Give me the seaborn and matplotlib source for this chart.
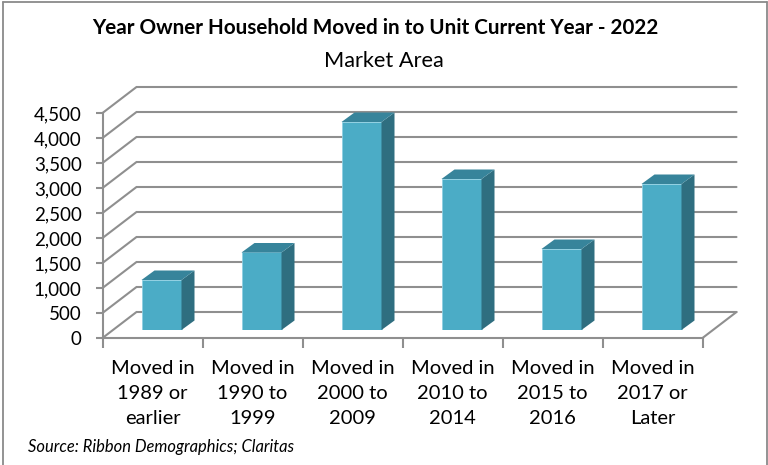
import pandas as pd
import matplotlib
matplotlib.use('Agg')
import matplotlib.pyplot as plt
from matplotlib.lines import Line2D
from matplotlib.patches import Polygon
import seaborn as sns

categories = ['Moved in\n1989 or\nearlier', 'Moved in\n1990 to\n1999', 'Moved in\n2000 to\n2009',
              'Moved in\n2010 to\n2014', 'Moved in\n2015 to\n2016', 'Moved in\n2017 or\nLater']
values = [1000, 1550, 4160, 3020, 1620, 2920]
y_ticks = [0, 500, 1000, 1500, 2000, 2500, 3000, 3500, 4000, 4500]

W, H = 768, 465
GRID = '#8f8f8f'
FRONT = '#4BACC6'
SIDE = '#2F6E80'
TOP = '#37849B'

sns.set_theme(style='white')
plt.rcParams['font.family'] = ['Lato', 'DejaVu Sans']


def px_axes(x0, y0, x1, y1):
    # pixels measured from the top left of the picture
    return fig.add_axes([x0 / W, 1 - y1 / H, (x1 - x0) / W, (y1 - y0) / H])


fig = plt.figure(figsize=(W / 100, H / 100), dpi=100, facecolor='white')

# front plane: axes, ticks and the walls
ax = px_axes(102.5, 113, 702.5, 338)
ax.set_xlim(-0.5, 5.5)
ax.set_ylim(0, 4500)
ax.patch.set_alpha(0)

depth_x = 0.34   # 34 px
depth_y = 520    # 26 px
for v in y_ticks:
    ax.plot([-0.5, -0.5 + depth_x, 5.5 + depth_x], [v, v + depth_y, v + depth_y],
            color=GRID, lw=1.5, clip_on=False, zorder=1, solid_joinstyle='miter')
ax.plot([5.5, 5.5 + depth_x], [0, depth_y], color=GRID, lw=1.5, clip_on=False, zorder=1)

for s in ['top', 'right']:
    ax.spines[s].set_visible(False)
for s in ['left', 'bottom']:
    ax.spines[s].set_color(GRID)
    ax.spines[s].set_linewidth(1.5)
ax.set_yticks(y_ticks)
ax.set_yticklabels([f'{v:,}' for v in y_ticks], fontsize=13.5, color='black')
ax.set_xticks([i - 0.5 for i in range(7)])
ax.set_xticklabels([])
ax.set_xticks(range(6), categories, minor=True, fontsize=14.5, color='black', linespacing=1.6)
ax.tick_params(axis='y', length=5, width=1.5, color=GRID, pad=10, left=True)
ax.tick_params(axis='x', which='major', length=7, width=1.5, color=GRID, bottom=True)
ax.tick_params(axis='x', which='minor', length=0, pad=15.5)

# bars stand a little inside the floor, so they get their own shifted axes
ax_bars = px_axes(111.5, 105, 711.5, 330)
df = pd.DataFrame({'category': categories, 'value': values})
sns.barplot(data=df, x='category', y='value', color=FRONT, saturation=1, width=0.4,
            edgecolor='#8fd0e2', linewidth=0.6, ax=ax_bars)
ax_bars.set_xlim(-0.5, 5.5)
ax_bars.set_ylim(0, 4500)
ax_bars.axis('off')
bar_dx = 0.13
bar_dy = 190
for p in ax_bars.patches:
    x0, x1 = p.get_x(), p.get_x() + p.get_width()
    h = p.get_height()
    ax_bars.add_patch(Polygon([(x1, 0), (x1 + bar_dx, bar_dy), (x1 + bar_dx, h + bar_dy), (x1, h)],
                              closed=True, fc=SIDE, ec='none', clip_on=False))
    ax_bars.add_patch(Polygon([(x0, h), (x0 + bar_dx, h + bar_dy), (x1 + bar_dx, h + bar_dy), (x1, h)],
                              closed=True, fc=TOP, ec='none', clip_on=False))

# titles and source
fig.text(375 / W, 1 - 27.5 / H, 'Year Owner Household Moved in to Unit Current Year - 2022',
         ha='center', va='center', fontsize=14.9, fontweight='bold', color='black')
fig.text(383.5 / W, 1 - 61 / H, 'Market Area', ha='center', va='center', fontsize=15.7, color='black')
fig.text(28 / W, 1 - 447 / H, 'Source: Ribbon Demographics; Claritas', ha='left', va='center',
         fontsize=11.9, fontstyle='italic', color='black')

# outer border, open at the bottom
for xs, ys in [([2.5, 2.5], [465, 2.5]), ([2.5, 767], [2.5, 2.5]), ([767, 767], [2.5, 465])]:
    fig.add_artist(Line2D([x / W for x in xs], [1 - y / H for y in ys], color='#8a8a8a', lw=1.3))

fig.savefig('out.png', dpi=100)
